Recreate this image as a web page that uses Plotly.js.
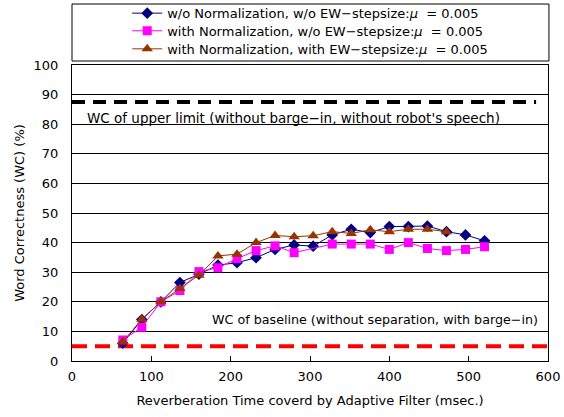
<!DOCTYPE html>
<html>
<head>
<meta charset="utf-8">
<script src="https://cdn.plot.ly/plotly-3.0.1.min.js"></script>
<style>html,body{margin:0;padding:0;background:#fff;}#chart{width:564px;height:417px;}</style>
</head>
<body>
<div id="chart"></div>
<script>
const reverbTime = [64, 88, 112, 136, 160, 184, 208, 232, 256, 280, 304, 328, 352, 376, 400, 424, 448, 472, 496, 520];
const woNormWoEW = [6, 14, 20, 26.5, 29.3, 32.4, 33.2, 34.9, 37.7, 39.2, 38.8, 42.6, 44.5, 43.4, 45.4, 45.4, 45.6, 43.7, 42.6, 40.6];
const withNormWoEW = [7.1, 11.4, 20, 23.8, 30.2, 31.5, 34.6, 37.3, 38.9, 36.6, null, 39.5, 39.5, 39.5, 37.7, 40, 38, 37.3, 37.7, 38.6];
const withNormWithEW = [6.5, 14.1, 20, 24.5, 29, 35.5, 36.1, 40, 42.4, 42, 42.3, 43.7, 43.1, 44.3, 43.7, 44.5, 44.5, 43.7, null, null];
const upperLimitX = [0, 585];
const upperLimitY = [87.5, 87.5];
const baselineX = [0, 600];
const baselineY = [5, 5];
const seriesNames = [
  "w/o Normalization, w/o EW\u2212stepsize:<i>\u03bc</i>  = 0.005",
  "with Normalization, w/o EW\u2212stepsize:<i>\u03bc</i>  = 0.005",
  "with Normalization, with EW\u2212stepsize:<i>\u03bc</i>  = 0.005"
];
const yTicks = [0, 10, 20, 30, 40, 50, 60, 70, 80, 90, 100];
const xTicks = [0, 100, 200, 300, 400, 500, 600];

const FONT = "DejaVu Sans, sans-serif";

const traces = [
  {x: upperLimitX, y: upperLimitY, mode: "lines", showlegend: false, hoverinfo: "skip",
   line: {color: "#000000", width: 4, dash: "13px,8px"}},
  {x: baselineX, y: baselineY, mode: "lines", showlegend: false, hoverinfo: "skip",
   line: {color: "#ff0000", width: 4, dash: "15px,8px"}},
  {x: reverbTime, y: woNormWoEW, name: seriesNames[0], mode: "lines+markers", legend: "legend",
   line: {color: "#000080", width: 1}, marker: {symbol: "diamond", size: 9, color: "#000080"}},
  {x: reverbTime, y: withNormWoEW, name: seriesNames[1], mode: "lines+markers", connectgaps: true, legend: "legend2",
   line: {color: "#ff00ff", width: 1}, marker: {symbol: "square", size: 9, color: "#ff00ff"}},
  {x: reverbTime, y: withNormWithEW, name: seriesNames[2], mode: "lines+markers", legend: "legend3",
   line: {color: "#993300", width: 1}, marker: {symbol: "triangle-up", size: 10, color: "#993300"}}
];

function legendAt(y) {
  return {x: 0.116, xanchor: "left", y: y, yanchor: "middle",
          bgcolor: "rgba(0,0,0,0)", borderwidth: 0, itemwidth: 30,
          font: {family: FONT, size: 13, color: "#000000"}};
}

const layout = {
  width: 564, height: 417,
  margin: {l: 72, r: 16, t: 65, b: 56, autoexpand: false},
  paper_bgcolor: "#ffffff", plot_bgcolor: "#ffffff",
  font: {family: FONT, size: 13, color: "#000000"},
  showlegend: true,
  legend: legendAt(1.175),
  legend2: legendAt(1.1155),
  legend3: legendAt(1.0545),
  xaxis: {range: [0, 600], tickvals: xTicks, ticks: "inside", ticklen: 5, tickcolor: "#000",
          showgrid: false, zeroline: false, showline: true, linecolor: "#000", linewidth: 1, mirror: true,
          ticklabelstandoff: 3,
          title: {text: "Reverberation Time coverd by Adaptive Filter (msec.)", standoff: 13,
                  font: {family: FONT, size: 13}}},
  yaxis: {range: [0, 100], tickvals: yTicks, ticks: "inside", ticklen: 5, tickcolor: "#000",
          showgrid: true, gridcolor: "#000", gridwidth: 1, zeroline: false,
          showline: true, linecolor: "#000", linewidth: 1, mirror: true,
          ticklabelstandoff: 10,
          title: {text: "Word Correctness (WC) (%)", standoff: 6, font: {family: FONT, size: 13}}},
  shapes: [
    {type: "rect", xref: "paper", yref: "paper", x0: 0, x1: 1.002, y0: 1.0135, y1: 1.206,
     line: {color: "#000", width: 1}, fillcolor: "rgba(0,0,0,0)"}
  ],
  annotations: [
    {xref: "x", yref: "y", x: 16, y: 82.1, xanchor: "left", yanchor: "middle", showarrow: false,
     text: "WC of upper limit (without barge\u2212in, without robot's speech)", font: {family: FONT, size: 13.5}},
    {xref: "x", yref: "y", x: 174, y: 13.9, xanchor: "left", yanchor: "middle", showarrow: false,
     text: "WC of baseline (without separation, with barge\u2212in)", font: {family: FONT, size: 12.7}}
  ]
};

Plotly.newPlot("chart", traces, layout, {displayModeBar: false, staticPlot: true});
</script>
</body>
</html>
